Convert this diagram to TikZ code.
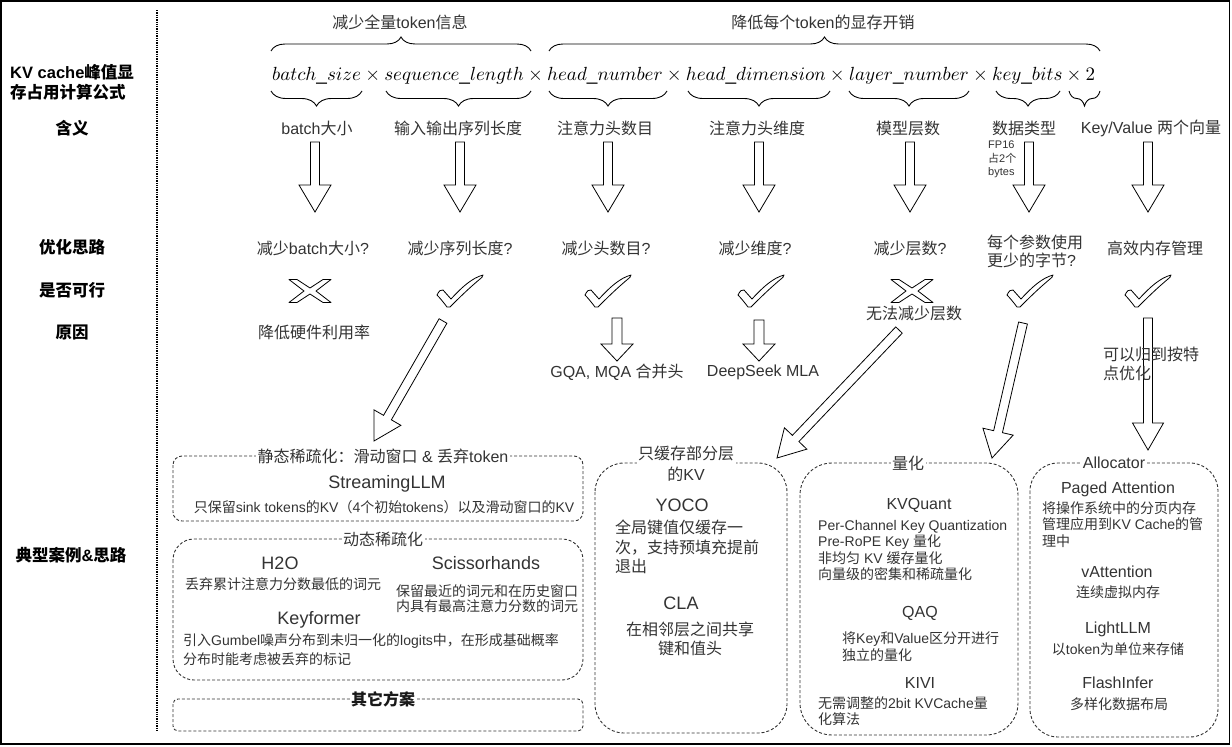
\documentclass[tikz,border=0pt]{standalone}
\usepackage[no-math]{fontspec}
\usepackage{graphicx}
\setmainfont{Liberation Sans}
\newfontfamily\cjkfam{Noto Sans CJK SC}
\newfontfamily\latfam{Liberation Sans}
\XeTeXinterchartokenstate=1
\newXeTeXintercharclass\cjkclass
\makeatletter
\count@="3000 \loop\ifnum\count@<"3040 \XeTeXcharclass\count@=\cjkclass \advance\count@ 1 \repeat
\count@="4E00 \loop\ifnum\count@<"A000 \XeTeXcharclass\count@=\cjkclass \advance\count@ 1 \repeat
\count@="FF00 \loop\ifnum\count@<"FFF0 \XeTeXcharclass\count@=\cjkclass \advance\count@ 1 \repeat
\makeatother
\XeTeXinterchartoks 0 \cjkclass = {\cjkfam}
\XeTeXinterchartoks 4095 \cjkclass = {\cjkfam}
\XeTeXinterchartoks \cjkclass 0 = {\latfam}
\XeTeXinterchartoks \cjkclass 4095 = {\latfam}
\usetikzlibrary{calc,decorations.pathreplacing}
\definecolor{txt}{HTML}{333333}
\newcommand\fsz[2]{\fontsize{#1}{#2}\selectfont}
\newcommand\barrow[5]{%
 \draw[blk] let \p1=(#1), \p2=(#2), \n1={atan2(\y2-\y1,\x2-\x1)}, \n2={veclen(\x2-\x1,\y2-\y1)-#5} in
  ($(\p1)+({\n1+90}:#3)$) -- ($(\p1)+(\n1:\n2)+({\n1+90}:#3)$) -- ($(\p1)+(\n1:\n2)+({\n1+90}:#4)$) -- (\p2)
  -- ($(\p1)+(\n1:\n2)+({\n1-90}:#4)$) -- ($(\p1)+(\n1:\n2)+({\n1-90}:#3)$) -- ($(\p1)+({\n1-90}:#3)$) -- cycle;}
\tikzset{
 lbl/.style={font=\fsz{16}{19}, text=txt, inner sep=1pt},
 hdr/.style={font=\fsz{16.5}{20}\bfseries, text=black, inner sep=1pt},
 bxt/.style={font=\fsz{16}{21}, text=txt, fill=white, inner sep=1.5pt},
 ttl/.style={font=\fsz{18}{21}, text=txt, inner sep=1pt},
 ttr/.style={font=\fsz{16}{19}, text=txt, inner sep=1pt},
 dsc/.style={font=\fsz{14}{16.5}, text=txt, inner sep=1pt},
 dbox/.style={draw=txt, line width=0.9pt, dash pattern=on 3pt off 2pt},
 mk/.style={draw=black, line width=0.8pt, fill=white, line join=round},
 blk/.style={draw=black, line width=0.8pt, fill=white, line join=miter},
 brc/.style={draw=black, line width=0.9pt, decorate, decoration={brace, amplitude=#1}},
 chk/.pic={\draw[mk] (-23,4) .. controls (-21,0) and (-19,-2) .. (-17,-1) -- (-9,8)
   .. controls (2,-4) and (12,-13) .. (23,-16) .. controls (22.5,-14) and (21.5,-13) .. (20,-12)
   .. controls (8,-2) and (-2,8) .. (-10,16) -- (-13,16) .. controls (-16,12) and (-20,7) .. (-23,4) -- cycle;},
 xmk/.pic={\draw[mk] (-21,-11.5) -- (-13,-11.5) -- (0,-3) -- (13,-11.5) -- (21,-11.5) -- (6,0)
   -- (21,11.5) -- (13,11.5) -- (0,3) -- (-13,11.5) -- (-21,11.5) -- (-6,0) -- cycle;}
}
\begin{document}
\begin{tikzpicture}[x=1pt,y=-1pt]
\useasboundingbox (0,0) rectangle (1232,747);
\draw[line width=1.5pt] (1,1) rectangle (1229.5,744);
% dotted divider
\coordinate (dtop) at (157,10);
\coordinate (dbot) at (157,732);
\draw[line width=1.3pt, dash pattern=on 1.3pt off 1pt] (dtop) -- (dbot);
% left labels
\node[hdr, anchor=west, align=left] (lkv) at (9,82) {KV cache峰值显\\存占用计算公式};
\node[hdr] (lhy) at (72,128) {含义};
\node[hdr] (lyh) at (72,247) {优化思路};
\node[hdr] (lsf) at (72,290) {是否可行};
\node[hdr] (lyy) at (72,332) {原因};
\node[hdr] (ldx) at (71,555) {典型案例\&思路};
% top labels and braces
\node[lbl] (t1) at (400,22) {减少全量token信息};
\node[lbl] (t2) at (823,22) {降低每个token的显存开销};
\draw[brc=14pt] (271,51) -- (531,51);
\draw[brc=14pt] (549,51) -- (1100,51);
% formula
\node[anchor=west, inner sep=0pt] (formula) at (272,76) {\resizebox{823pt}{!}{$batch\_size \times sequence\_length \times head\_number \times head\_dimension \times layer\_number \times key\_bits \times 2$}};
% bottom braces
\draw[brc=15pt, decoration={mirror}] (271,91) -- (362,91);
\draw[brc=15pt, decoration={mirror}] (386,91) -- (531,91);
\draw[brc=15pt, decoration={mirror}] (549,91) -- (667,91);
\draw[brc=15pt, decoration={mirror}] (688,91) -- (830,91);
\draw[brc=15pt, decoration={mirror}] (849,91) -- (969,91);
\draw[brc=15pt, decoration={mirror}] (996,91) -- (1060,91);
\draw[brc=15pt, decoration={mirror}] (1069,91) -- (1100,91);
% meaning row
\node[lbl] (m1) at (317,128) {batch大小};
\node[lbl] (m2) at (458,128) {输入输出序列长度};
\node[lbl] (m3) at (605,128) {注意力头数目};
\node[lbl] (m4) at (757,128) {注意力头维度};
\node[lbl] (m5) at (908,128) {模型层数};
\node[lbl] (m6) at (1024,128) {数据类型};
\node[lbl] (m7) at (1151,128) {Key/Value 两个向量};
\node[font=\fsz{11}{13.5}, text=txt, inner sep=0pt, anchor=north west, align=left] (fp) at (988,141) {FP16\\占2个\\bytes};
% big arrows
\foreach \i/\xx in {1/315,2/460,3/608,4/759,5/910,6/1029,7/1148}{
  \coordinate (a\i s) at (\xx,142);
  \coordinate (a\i e) at (\xx,212);
  \barrow{a\i s}{a\i e}{4.5pt}{16pt}{27}
}
% optimisation row
\node[lbl] (o1) at (313,248) {减少batch大小?};
\node[lbl] (o2) at (460,248) {减少序列长度?};
\node[lbl] (o3) at (606,248) {减少头数目?};
\node[lbl] (o4) at (755,248) {减少维度?};
\node[lbl] (o5) at (910,248) {减少层数?};
\node[lbl, align=left, font=\fsz{16}{18}] (o6) at (1035,251) {每个参数使用\\更少的字节?};
\node[lbl] (o7) at (1155,248) {高效内存管理};
% feasibility marks
\pic at (310,291) {xmk};
\pic at (460,291) {chk};
\pic at (608,291) {chk};
\pic at (761,291) {chk};
\pic at (912,291) {xmk};
\pic at (1030,291) {chk};
\pic at (1148,291) {chk};
% reasons
\node[lbl] (r1) at (314,332) {降低硬件利用率};
\node[lbl] (r5) at (914,313) {无法减少层数};
% small arrows
\coordinate (s1s) at (617,318); \coordinate (s1e) at (617,361);
\coordinate (s2s) at (759,320); \coordinate (s2e) at (759,361);
\barrow{s1s}{s1e}{5pt}{16pt}{17}
\barrow{s2s}{s2e}{5pt}{16pt}{17}
\node[lbl] (g1) at (617,372) {GQA, MQA 合并头};
\node[lbl] (g2) at (763,372) {DeepSeek MLA};
% long arrows
\coordinate (d1s) at (443,321); \coordinate (d1e) at (374,441);
\coordinate (d2s) at (899,330); \coordinate (d2e) at (777,458);
\coordinate (d3s) at (1023,323); \coordinate (d3e) at (992,458);
\coordinate (d4s) at (1148,318); \coordinate (d4e) at (1148,450);
\barrow{d1s}{d1e}{4.5pt}{15.5pt}{27}
\barrow{d2s}{d2e}{4.5pt}{15.5pt}{27}
\barrow{d3s}{d3e}{4.5pt}{15.5pt}{27}
\barrow{d4s}{d4e}{4.5pt}{15.5pt}{27}
\node[lbl, anchor=north west, align=left, font=\fsz{16}{19}] (kyg) at (1102,346) {可以归到按特\\点优化};
% ---------- boxes ----------
\draw[dbox, rounded corners=9pt] (173,456) rectangle (583,521);
\node[bxt] (b1t) at (383,456) {静态稀疏化：滑动窗口 \& 丢弃token};
\node[ttl] (sllm) at (387,484) {StreamingLLM};
\node[dsc] (sllmd) at (384,507) {只保留sink tokens的KV（4个初始tokens）以及滑动窗口的KV};

\draw[dbox, rounded corners=21pt] (173,539) rectangle (583,680);
\node[bxt] (b2t) at (383,539) {动态稀疏化};
\node[ttl] (h2o) at (280,563) {H2O};
\node[dsc] (h2od) at (283,584) {丢弃累计注意力分数最低的词元};
\node[ttl] (sci) at (486,563) {Scissorhands};
\node[dsc, anchor=north west, align=left, font=\fsz{14}{15.5}] (scid) at (395,583) {保留最近的词元和在历史窗口\\内具有最高注意力分数的词元};
\node[ttl] (kf) at (319,620) {Keyformer};
\node[dsc, anchor=north west, align=left, font=\fsz{14}{19.5}] (kfd) at (182,632) {引入Gumbel噪声分布到未归一化的logits中，在形成基础概率\\分布时能考虑被丢弃的标记};

\draw[dbox, rounded corners=5pt] (173,699) rectangle (583,731);
\node[bxt, font=\fsz{16}{19}\bfseries, text=black!90] (b3t) at (383,699) {其它方案};

\draw[dbox, rounded corners=29pt] (595,463) rectangle (787,733);
\node[bxt, align=center, font=\fsz{16}{21}] (b4t) at (686,464) {只缓存部分层\\的KV};
\node[ttl] (yoco) at (682,505) {YOCO};
\node[dsc, anchor=north west, align=left, font=\fsz{16}{19.5}] (yocod) at (614,519) {全局键值仅缓存一\\次，支持预填充提前\\退出};
\node[ttl] (cla) at (681,603) {CLA};
\node[dsc, align=center, font=\fsz{16}{18.5}] (clad) at (690,639) {在相邻层之间共享\\键和值头};

\draw[dbox, rounded corners=32pt] (800,463) rectangle (1018,735);
\node[bxt] (b5t) at (908,463) {量化};
\node[ttr] (kvq) at (919,505) {KVQuant};
\node[dsc, anchor=north west, align=left] (kvqd) at (817,519) {Per-Channel Key Quantization\\Pre-RoPE Key 量化\\非均匀 KV 缓存量化\\向量级的密集和稀疏量化};
\node[ttr] (qaq) at (920,613) {QAQ};
\node[dsc, anchor=north west, align=left] (qaqd) at (841,631) {将Key和Value区分开进行\\独立的量化};
\node[ttr] (kivi) at (920,683) {KIVI};
\node[dsc, anchor=north west, align=left] (kivid) at (817,695) {无需调整的2bit KVCache量\\化算法};

\draw[dbox, rounded corners=28pt] (1030,463) rectangle (1218,737);
\node[bxt] (b6t) at (1114,463) {Allocator};
\node[ttr] (pa) at (1118,489) {Paged Attention};
\node[dsc, anchor=north west, align=left] (pad) at (1041,500) {将操作系统中的分页内存\\管理应用到KV Cache的管\\理中};
\node[ttr] (va) at (1117,572) {vAttention};
\node[dsc] (vad) at (1118,592) {连续虚拟内存};
\node[ttr] (ll) at (1118,629) {LightLLM};
\node[dsc] (lld) at (1118,649) {以token为单位来存储};
\node[ttr] (fi) at (1118,683) {FlashInfer};
\node[dsc] (fid) at (1119,704) {多样化数据布局};
\end{tikzpicture}
\end{document}
